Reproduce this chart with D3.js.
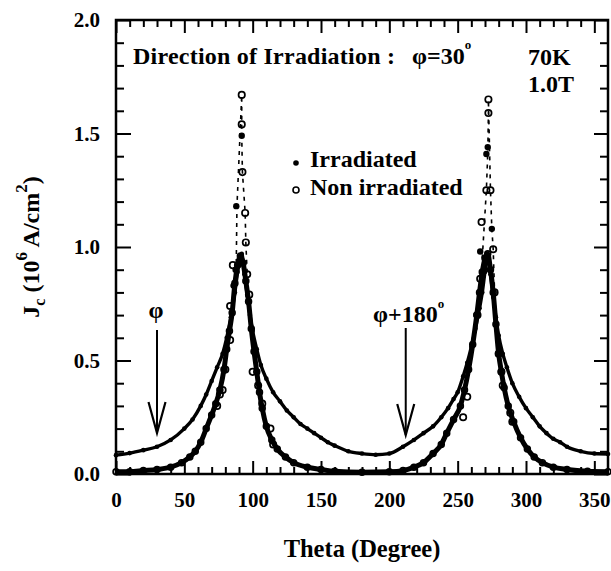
<!DOCTYPE html>
<html>
<head>
<meta charset="utf-8">
<script src="https://cdn.jsdelivr.net/npm/d3@7"></script>
</head>
<body style="margin:0;background:#fff">
<svg id="chart" width="611" height="571"></svg>
<script>
// broad curve, filled dots (Irradiated)
const irrTheta = [0,10,20,30,40,50,56,62,66,70,74,78,81,84,87,89,91,92,94,96,98,100,103,106,110,115,120,125,130,135,140,145,150,155,160,170,180,190,200,210,218,225,232,238,243,247,250,254,257,260,263,266,268,270,272,274,276,278,280,283,286,290,295,300,305,310,315,320,325,330,340,350,360];
const irrJc = [0.083,0.092,0.105,0.12,0.15,0.2,0.24,0.3,0.35,0.41,0.47,0.53,0.6,0.69,0.8,0.89,0.96,0.97,0.88,0.79,0.7,0.63,0.55,0.48,0.42,0.36,0.32,0.28,0.25,0.22,0.2,0.18,0.16,0.14,0.125,0.1,0.09,0.085,0.09,0.12,0.15,0.18,0.21,0.25,0.29,0.33,0.36,0.43,0.49,0.56,0.64,0.73,0.8,0.89,0.96,0.88,0.78,0.69,0.61,0.53,0.47,0.4,0.34,0.29,0.25,0.21,0.18,0.155,0.14,0.12,0.1,0.09,0.088];

// narrow curve, open circles (Non irradiated)
const nonTheta = [0,10,20,30,40,48,54,58,62,66,70,73,76,79,81,83,85,87,89,91,93,95,97,99,101,103,105,107,110,114,118,124,130,140,150,160,180,200,210,218,225,232,238,242,247,252,255,258,261,264,266,268,270,272,274,276,278,280,282,284,287,291,296,301,306,312,320,330,345,360];
const nonJc = [0.01,0.01,0.015,0.02,0.03,0.05,0.075,0.1,0.14,0.2,0.26,0.31,0.37,0.46,0.55,0.63,0.71,0.84,0.92,0.96,0.93,0.85,0.76,0.64,0.54,0.45,0.36,0.29,0.21,0.15,0.11,0.075,0.05,0.03,0.02,0.012,0.008,0.01,0.015,0.03,0.05,0.09,0.13,0.18,0.24,0.3,0.37,0.46,0.57,0.7,0.8,0.89,0.95,0.97,0.9,0.8,0.66,0.53,0.45,0.38,0.3,0.23,0.16,0.11,0.075,0.05,0.03,0.02,0.012,0.01];

// scattered points around the two peaks
const irrPeakTheta = [88,92,86,87.5,271,272,275,266.5];
const irrPeakJc = [1.18,1.49,0.83,0.9,1.41,1.44,1.08,0.98];
const nonPeakTheta = [92,92,92.5,94.5,95,85.5,96,97.5,83.5,104,107,100,78,76,74,80,83.5,115,113,272.5,272.5,271,274,267.5,276,266.5,277,264.5,280,282,283,257,254,288.5,290];
const nonPeakJc = [1.67,1.54,1.33,1.15,1.02,0.92,0.88,0.79,0.74,0.39,0.31,0.45,0.37,0.35,0.3,0.46,0.59,0.13,0.2,1.65,1.59,1.25,1.25,1.11,0.99,0.86,0.8,0.7,0.53,0.45,0.39,0.34,0.25,0.27,0.23];

// dashed joins between the peak points
const dashLTheta = [88,88.5,92,92,92,92.5,94.5,95,96];
const dashLJc = [0.93,1.18,1.67,1.54,1.49,1.33,1.15,1.02,0.88];
const dashRTheta = [268,271,272,272.5,272.5,274,275,276,277];
const dashRJc = [0.95,1.25,1.41,1.59,1.65,1.25,1.08,0.99,0.8];

const xTicks = [0,50,100,150,200,250,300,350];
const yTicks = [0,0.5,1.0,1.5,2.0];

const FONT = "Liberation Serif";
const svg = d3.select("#chart");
const x = d3.scaleLinear().domain([0, 360]).range([116, 608]);
const y = d3.scaleLinear().domain([0, 2]).range([474, 20]);

const xMinor = d3.range(10, 360, 10).filter(d => d % 50 !== 0);
const yMinor = d3.range(1, 20).filter(i => i % 5 !== 0).map(i => i / 10);

// every text gets the font set on itself
function addText(px, py, size, str) {
    return svg.append("text")
        .attr("x", px).attr("y", py)
        .attr("font-family", FONT)
        .attr("font-weight", "bold")
        .attr("font-size", size)
        .attr("fill", "#000")
        .text(str);
}

function styleAxis(g) {
    g.select(".domain").remove();
    g.selectAll(".tick line").attr("stroke", "#000").attr("stroke-width", 2);
    g.selectAll(".tick text")
        .attr("fill", "#000")
        .attr("font-family", FONT)
        .attr("font-weight", "bold")
        .attr("font-size", 21);
}

// bottom
svg.append("g").attr("transform", `translate(0,${y(0)})`)
    .call(d3.axisBottom(x).tickValues(xMinor).tickSize(-7).tickFormat(""))
    .call(styleAxis);
svg.append("g").attr("transform", `translate(0,${y(0)})`)
    .call(d3.axisBottom(x).tickValues(xTicks).tickSize(-13).tickPadding(18).tickFormat(d3.format("d")))
    .call(styleAxis);
// top
svg.append("g").attr("transform", `translate(0,${y(2)})`)
    .call(d3.axisTop(x).tickValues(xMinor).tickSize(-7).tickFormat(""))
    .call(styleAxis);
svg.append("g").attr("transform", `translate(0,${y(2)})`)
    .call(d3.axisTop(x).tickValues(xTicks).tickSize(-13).tickFormat(""))
    .call(styleAxis);
// left
svg.append("g").attr("transform", `translate(${x(0)},0)`)
    .call(d3.axisLeft(y).tickValues(yMinor).tickSize(-8).tickFormat(""))
    .call(styleAxis);
svg.append("g").attr("transform", `translate(${x(0)},0)`)
    .call(d3.axisLeft(y).tickValues(yTicks).tickSize(-15).tickPadding(16).tickFormat(d3.format(".1f")))
    .call(styleAxis);
// right
svg.append("g").attr("transform", `translate(${x(360)},0)`)
    .call(d3.axisRight(y).tickValues(yMinor).tickSize(-8).tickFormat(""))
    .call(styleAxis);
svg.append("g").attr("transform", `translate(${x(360)},0)`)
    .call(d3.axisRight(y).tickValues(yTicks).tickSize(-14).tickFormat(""))
    .call(styleAxis);

// curves
function curve(th, jc, width, dash) {
    const line = d3.line()
        .x(i => x(th[i]))
        .y(i => y(jc[i]));
    if (!dash) line.curve(d3.curveMonotoneX);
    svg.append("path")
        .attr("d", line(d3.range(th.length)))
        .attr("fill", "none")
        .attr("stroke", "#000")
        .attr("stroke-width", width)
        .attr("stroke-dasharray", dash || null);
}

curve(nonTheta, nonJc, 5);
curve(irrTheta, irrJc, 3.4);
curve(dashLTheta, dashLJc, 1.6, "4,5");
curve(dashRTheta, dashRJc, 1.6, "4,5");

function openDots(th, jc, r) {
    svg.append("g").selectAll("circle")
        .data(d3.range(th.length))
        .join("circle")
        .attr("cx", i => x(th[i]))
        .attr("cy", i => y(jc[i]))
        .attr("r", r)
        .attr("fill", "none")
        .attr("stroke", "#000")
        .attr("stroke-width", 1.7);
}
function filledDots(th, jc, r) {
    svg.append("g").selectAll("circle")
        .data(d3.range(th.length))
        .join("circle")
        .attr("cx", i => x(th[i]))
        .attr("cy", i => y(jc[i]))
        .attr("r", r)
        .attr("fill", "#000");
}

openDots(nonTheta, nonJc, 2.9);
filledDots(irrTheta, irrJc, 2.3);
openDots(nonPeakTheta, nonPeakJc, 3.2);
filledDots(irrPeakTheta, irrPeakJc, 3.2);

// frame
svg.append("rect")
    .attr("x", x(0))
    .attr("y", y(2))
    .attr("width", x(360) - x(0))
    .attr("height", y(0) - y(2))
    .attr("fill", "none")
    .attr("stroke", "#000")
    .attr("stroke-width", 2.5);

// header texts
addText(133, 64, 24, "Direction of Irradiation :")
    .attr("textLength", 262)
    .attr("lengthAdjust", "spacing");
const phiTxt = addText(412, 64, 24, null);
phiTxt.append("tspan").text("φ=30");
phiTxt.append("tspan").attr("font-size", 13).attr("dy", -15).text("o");

addText(528, 65, 24, "70K");
addText(528, 92, 24, "1.0T");

// legend
svg.append("circle").attr("cx", 296).attr("cy", 163).attr("r", 2.8).attr("fill", "#000");
svg.append("circle").attr("cx", 296).attr("cy", 190).attr("r", 3)
    .attr("fill", "none").attr("stroke", "#000").attr("stroke-width", 1.6);
addText(310, 167, 24, "Irradiated");
addText(310, 195, 24, "Non irradiated");

// arrows
function arrow(theta, y1, y2) {
    const ax = x(theta);
    svg.append("line")
        .attr("x1", ax).attr("y1", y1)
        .attr("x2", ax).attr("y2", y2)
        .attr("stroke", "#000").attr("stroke-width", 2);
    svg.append("path")
        .attr("d", `M${ax - 8.5},${y2 - 31}L${ax},${y2}L${ax + 8.5},${y2 - 31}`)
        .attr("fill", "none").attr("stroke", "#000").attr("stroke-width", 2.2);
}
arrow(30, 330, 433);
arrow(212, 328, 435);

addText(x(30) - 1, 318, 24, "φ").attr("text-anchor", "middle");
const phi2 = addText(373, 322, 24, null);
phi2.append("tspan").text("φ+180");
phi2.append("tspan").attr("font-size", 13).attr("dy", -14).text("o");

// axis titles
addText((x(0) + x(360)) / 2, 557, 24.5, "Theta (Degree)").attr("text-anchor", "middle");

const yt = addText(0, 0, 24, null)
    .attr("transform", "translate(39,247) rotate(-90)")
    .attr("text-anchor", "middle");
yt.append("tspan").text("J");
yt.append("tspan").attr("font-size", 16).attr("dy", 6).text("c");
yt.append("tspan").attr("dy", -6).text(" (10");
yt.append("tspan").attr("font-size", 17).attr("dy", -12).text("6");
yt.append("tspan").attr("dy", 12).text(" A/cm");
yt.append("tspan").attr("font-size", 17).attr("dy", -12).text("2");
yt.append("tspan").attr("dy", 12).text(")");
</script>
</body>
</html>
